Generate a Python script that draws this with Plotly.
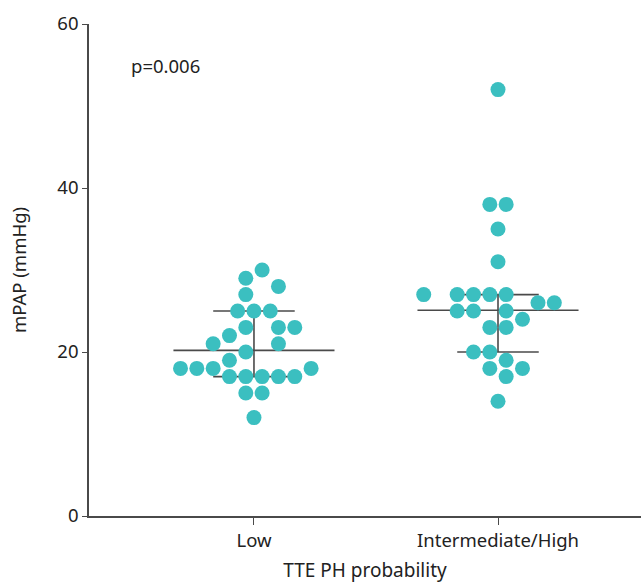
import plotly.graph_objects as go

# ---- data ----
categories = ["Low", "Intermediate/High"]

low_values = [30, 29, 28, 27, 25, 25, 25, 23, 23, 23, 22, 21, 21, 20, 19,
              18, 18, 18, 18, 17, 17, 17, 17, 17, 15, 15, 12]
# swarm slot of each dot (in dot widths, relative to the category centre)
low_slots = [0.5, -0.5, 1.5, -0.5, -1, 0, 1, -0.5, 1.5, 2.5, -1.5, -2.5, 1.5, -0.5, -1.5,
             -4.5, -3.5, -2.5, 3.5, -1.5, -0.5, 0.5, 1.5, 2.5, -0.5, 0.5, 0]

high_values = [52, 38, 38, 35, 31, 27, 27, 27, 27, 27, 26, 26, 25, 25, 25, 24,
               23, 23, 20, 20, 19, 18, 18, 17, 14]
high_slots = [0, -0.5, 0.5, 0, 0, -4.55, -2.5, -1.5, -0.5, 0.5, 2.45, 3.45, -2.5, -1.5, 0.5, 1.5,
              -0.5, 0.5, -1.5, -0.5, 0.5, -0.5, 1.5, 0.5, 0]

# median and interquartile range lines
medians = [20.2, 25.1]
q1s = [17.0, 20.0]
q3s = [25.0, 27.0]

p_text = "p=0.006"

# ---- styling ----
dot_color = "#3bbfc0"
line_color = "#4a4a4a"
dot_step = 0.0669        # one dot width in x-axis units
median_half = 0.33
iqr_half = 0.167
font_family = "'Noto Sans', 'Open Sans', sans-serif"
fs = 18.5

fig = go.Figure()

# summary lines (behind dots)
for i, (m, lo, hi) in enumerate(zip(medians, q1s, q3s)):
    fig.add_trace(go.Scatter(x=[i - median_half, i + median_half], y=[m, m], mode="lines",
                             line=dict(color=line_color, width=1.6), hoverinfo="skip", showlegend=False))
    fig.add_trace(go.Scatter(x=[i - iqr_half, i + iqr_half], y=[lo, lo], mode="lines",
                             line=dict(color=line_color, width=1.6), hoverinfo="skip", showlegend=False))
    fig.add_trace(go.Scatter(x=[i - iqr_half, i + iqr_half], y=[hi, hi], mode="lines",
                             line=dict(color=line_color, width=1.6), hoverinfo="skip", showlegend=False))
    fig.add_trace(go.Scatter(x=[i, i], y=[lo, hi], mode="lines",
                             line=dict(color=line_color, width=1.6), hoverinfo="skip", showlegend=False))

for i, (vals, slots) in enumerate([(low_values, low_slots), (high_values, high_slots)]):
    fig.add_trace(go.Scatter(
        x=[i + s * dot_step for s in slots], y=vals, mode="markers",
        marker=dict(size=15, color=dot_color, line=dict(width=0)),
        name=categories[i], showlegend=False))

fig.add_annotation(x=-0.512, y=54.9, xref="x", yref="y", text=p_text, showarrow=False,
                   xanchor="left", yanchor="middle", font=dict(size=fs, color="#222"))

fig.update_layout(
    width=641, height=583,
    margin=dict(l=89, r=0, t=24, b=67),
    plot_bgcolor="white", paper_bgcolor="white",
    font=dict(family=font_family, size=fs, color="#222"),
    xaxis=dict(range=[-0.676, 1.586], tickvals=[0, 1], ticktext=categories, automargin=False,
               showgrid=False, zeroline=False, showline=True, linecolor=line_color, linewidth=1.6,
               ticks="outside", ticklen=7, tickwidth=1.4, tickcolor=line_color,
               tickfont=dict(size=fs),
               title=dict(text="TTE PH probability", standoff=15, font=dict(size=19)), fixedrange=True),
    yaxis=dict(range=[0, 60], tickvals=[0, 20, 40, 60], automargin=False,
               showgrid=False, zeroline=False, showline=True, linecolor=line_color, linewidth=1.6,
               ticks="outside", ticklen=5, tickwidth=1.4, tickcolor=line_color,
               tickfont=dict(size=fs),
               title=dict(text="mPAP (mmHg)", standoff=26, font=dict(size=fs)), fixedrange=True),
)

fig.write_html("out.html", config={"displayModeBar": False},
               post_script="document.body.style.margin='0px';")
